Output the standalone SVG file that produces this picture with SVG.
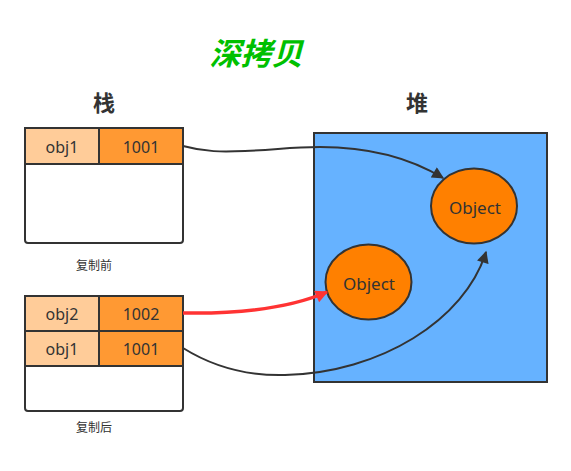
<svg xmlns="http://www.w3.org/2000/svg" width="571" height="471" viewBox="0 0 571 471">
<style>
.cellL{fill:#FFCC99;stroke:#333;stroke-width:2}
.cellR{fill:#FF9933;stroke:#333;stroke-width:2}
.frame{fill:#fff;stroke:#333;stroke-width:2}
.t{font-family:"Noto Sans","Liberation Sans",sans-serif;font-size:16px;fill:#333;text-anchor:middle;dominant-baseline:central}
.o{font-size:17px}
.obj{fill:#FF8000;stroke:#333;stroke-width:2}
.cap{font-family:"Noto Sans CJK SC",sans-serif;font-size:12px;fill:#333;text-anchor:middle}
.hd{font-family:"Noto Sans CJK SC",sans-serif;font-size:22px;font-weight:bold;fill:#333;text-anchor:middle}
.ln{fill:none;stroke:#333;stroke-width:2}
</style>
<defs>
<marker id="ah" viewBox="0 0 10 10" refX="9" refY="5" markerWidth="6.5" markerHeight="6" orient="auto" markerUnits="strokeWidth"><path d="M0,0 L10,5 L0,10 z" fill="#333"/></marker>
<marker id="ahr" viewBox="0 0 10 10" refX="9" refY="5" markerWidth="4" markerHeight="3.6" orient="auto" markerUnits="strokeWidth"><path d="M0,0 L10,5 L0,10 z" fill="#FF3333"/></marker>
</defs>
<text transform="translate(256,65) skewX(-15)" x="0" y="0" font-family="Noto Sans CJK SC,sans-serif" font-size="31" font-weight="bold" fill="#00C000" text-anchor="middle">深拷贝</text>
<text class="hd" x="104" y="111">栈</text>
<text class="hd" x="417" y="111">堆</text>

<g id="heap">
<rect x="314" y="133" width="233" height="249" fill="#66B2FF" stroke="#333" stroke-width="2"/>
</g>

<g id="stack1">
<rect class="frame" x="25" y="128" width="158" height="115" rx="3"/>
<rect class="cellL" x="25" y="128" width="74" height="36"/>
<rect class="cellR" x="99" y="128" width="84" height="36"/>
<text class="t" x="62" y="147">obj1</text>
<text class="t" x="141" y="147">1001</text>
</g>
<text class="cap" x="94" y="270">复制前</text>

<g id="stack2">
<rect class="frame" x="25" y="296" width="158" height="115" rx="3"/>
<rect class="cellL" x="25" y="296" width="74" height="35"/>
<rect class="cellR" x="99" y="296" width="84" height="35"/>
<rect class="cellL" x="25" y="331" width="74" height="35"/>
<rect class="cellR" x="99" y="331" width="84" height="35"/>
<text class="t" x="62" y="314">obj2</text>
<text class="t" x="141" y="314">1002</text>
<text class="t" x="62" y="349">obj1</text>
<text class="t" x="141" y="349">1001</text>
</g>
<text class="cap" x="94" y="432">复制后</text>

<g id="object1">
<ellipse class="obj" cx="474" cy="206" rx="43" ry="37.5"/>
<text class="t o" x="475" y="207">Object</text>
</g>
<g id="object2">
<ellipse class="obj" cx="368.5" cy="282" rx="43" ry="37.5"/>
<text class="t o" x="369" y="283">Object</text>
</g>

<g id="connectors">
<path class="ln" d="M183,146 C205,152 222,152 245,151 C275,150 290,147 320,147 C370,147 410,158 443,178" marker-end="url(#ah)"/>
<path d="M183,313 C240,314 290,308 327,292" fill="none" stroke="#FF3333" stroke-width="3.5" marker-end="url(#ahr)"/>
<path class="ln" d="M183,348 C215,368 248,376 285,375 C380,373 465,320 486,252" marker-end="url(#ah)"/>
</g>
</svg>
